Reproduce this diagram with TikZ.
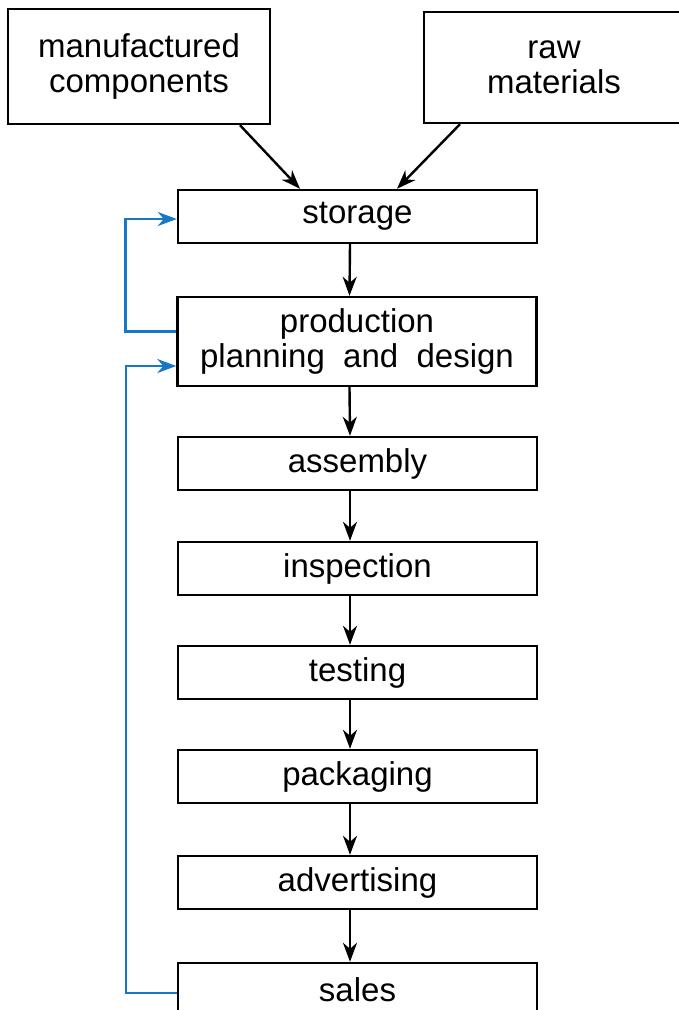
\documentclass[tikz,border=0pt]{standalone}
\usepackage{fontspec}
\setmainfont{Liberation Sans}
\usepackage{xcolor}
\usetikzlibrary{arrows.meta}
\definecolor{loopblue}{RGB}{24,120,200}

\begin{document}
\begin{tikzpicture}[x=1pt,y=-1pt,
    stage/.style={draw,line width=2.4pt,minimum width=359pt,minimum height=53pt,
      inner sep=0pt,align=center,font=\fontsize{33}{35}\selectfont},
    source/.style={stage,minimum width=262pt,minimum height=115pt},
    flow/.style={line width=2.4pt,-{Stealth[length=19pt,width=14pt,inset=6pt]}},
    feedback/.style={flow,loopblue}]
    \clip (0,0) rectangle (679,1010);
    \node[source] (comp) at (139,66.5) {manufactured\\components};
    \node[source,minimum width=260pt,minimum height=111pt] (raw) at (554,67.5) {raw\\materials};
    \node[stage] (storage) at (357.5,216.5) {storage};
    \node[stage,minimum height=89pt] (production) at (357,341.5) {production\\planning\ \ and\ \ design};
    \node[stage] (assembly) at (357.5,463.5) {assembly};
    \node[stage] (inspection) at (357.5,568.5) {inspection};
    \node[stage] (testing) at (357.5,672.5) {testing};
    \node[stage] (packaging) at (357.5,776.5) {packaging};
    \node[stage] (advertising) at (357.5,882.5) {advertising};
    \node[stage] (sales) at (357.5,989.5) {sales};
    % inputs
    \draw[flow] ([xshift=101pt]comp.south) -- ([xshift=-57.5pt]storage.north);
    \draw[flow] ([xshift=-94pt]raw.south) -- ([xshift=39.5pt]storage.north);
    % main chain
    \foreach \a/\b in {storage/production,production/assembly,assembly/inspection,
        inspection/testing,testing/packaging,packaging/advertising,advertising/sales}
      \draw[flow] ([xshift=-7.5pt]\a.south) -- ([xshift=-7.5pt]\b.north);
    % feedback loops
    \draw[feedback] ([yshift=10pt]production.west) -- ++(-51,0) |- ([yshift=-2.5pt]storage.west);
    \draw[feedback] ([yshift=-3.5pt]sales.west) -- ++(-51,0) |- ([yshift=-24.5pt]production.west);
\end{tikzpicture}
\end{document}
